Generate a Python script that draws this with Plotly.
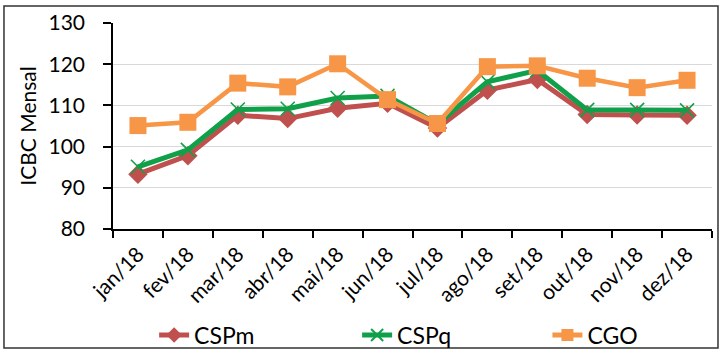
import plotly.graph_objects as go

months = ["jan/18", "fev/18", "mar/18", "abr/18", "mai/18", "jun/18",
          "jul/18", "ago/18", "set/18", "out/18", "nov/18", "dez/18"]
cspm = [93.3, 97.8, 107.6, 106.8, 109.3, 110.5, 104.5, 113.7, 116.3, 107.8, 107.7, 107.6]
cspq = [95.1, 99.2, 109.0, 109.2, 111.8, 112.3, 105.5, 115.7, 118.5, 108.9, 108.9, 108.8]
cgo = [105.1, 105.9, 115.4, 114.5, 120.1, 111.4, 105.6, 119.4, 119.6, 116.6, 114.3, 116.1]
y_ticks = [80, 90, 100, 110, 120, 130]

FONT = "Lato, Open Sans, sans-serif"

fig = go.Figure()
fig.add_trace(go.Scatter(
    x=months, y=cspm, name="CSPm", mode="lines+markers", legend="legend",
    line=dict(color="#C0504D", width=5),
    marker=dict(symbol="diamond", size=15, color="#C0504D")))
fig.add_trace(go.Scatter(
    x=months, y=cspq, name="CSPq", mode="lines+markers", legend="legend",
    line=dict(color="#11A04A", width=5),
    marker=dict(symbol="x-thin", size=14, color="#11A04A",
                line=dict(color="#11A04A", width=1.6))))
fig.add_trace(go.Scatter(
    x=months, y=cgo, name="CGO", mode="lines+markers", legend="legend2",
    line=dict(color="#F79646", width=4.5),
    marker=dict(symbol="square", size=17, color="#F79646")))

legend_common = dict(orientation="h", xref="container", yref="container",
                     xanchor="left", y=0.056, yanchor="middle",
                     font=dict(size=23, family=FONT), entrywidth=158,
                     entrywidthmode="pixels", itemsizing="constant",
                     bgcolor="rgba(0,0,0,0)")

fig.update_layout(
    width=727, height=355,
    margin=dict(l=113, r=15, t=23, b=126, autoexpand=False),
    paper_bgcolor="white", plot_bgcolor="white",
    font=dict(family=FONT, color="black"),
    showlegend=True,
    legend=dict(legend_common, x=0.212),
    legend2=dict(legend_common, x=0.753),
    xaxis=dict(
        type="category", tickangle=-45, tickson="boundaries", automargin=False,
        ticks="outside", ticklen=7, tickcolor="black", tickwidth=1.5,
        showline=True, linecolor="black", linewidth=1.5, ticklabelstandoff=3,
        showgrid=False, tickfont=dict(size=21, family=FONT),
        range=[-0.5, 11.5]),
    yaxis=dict(
        range=[80, 130], tickvals=y_ticks, ticks="outside", ticklen=8, automargin=False,
        tickcolor="black", tickwidth=1.5, ticklabelstandoff=14,
        showline=True, linecolor="black", linewidth=1.5,
        showgrid=True, gridcolor="#D9D9D9", gridwidth=1.2,
        zeroline=False, tickfont=dict(size=21, family=FONT),
        title=dict(text="ICBC Mensal", font=dict(size=21, family=FONT), standoff=6)),
    shapes=[dict(type="rect", xref="paper", yref="paper",
                 x0=-0.182, x1=1.01, y0=-0.578, y1=1.0825,
                 line=dict(color="#333333", width=1.5), layer="below")],
)

fig.write_html("out.html", config={"displayModeBar": False},
               post_script="document.body.style.margin='0';")
